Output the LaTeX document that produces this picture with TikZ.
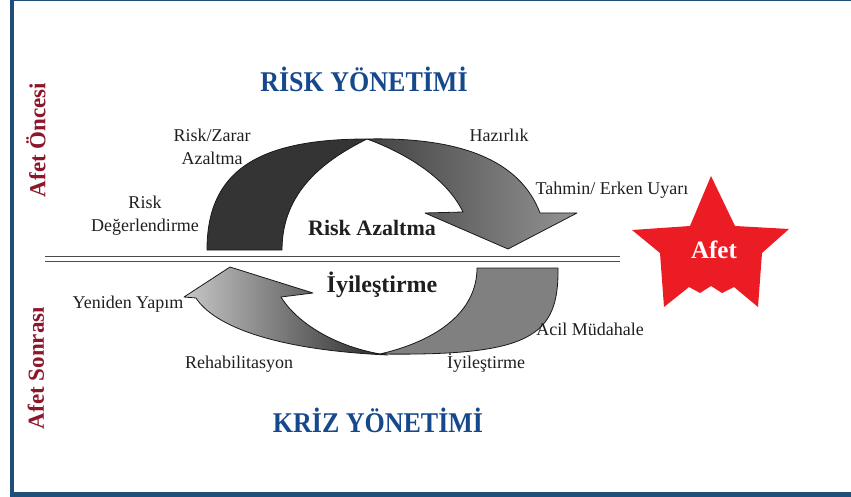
\documentclass[tikz,border=0pt]{standalone}
\usepackage{fontspec}
\setmainfont{Liberation Serif}
\definecolor{frameblue}{RGB}{31,78,121}
\definecolor{titleblue}{RGB}{22,72,140}
\definecolor{phasered}{RGB}{140,22,42}
\definecolor{starred}{RGB}{236,28,36}
\definecolor{ribbondark}{RGB}{52,52,52}
\begin{document}
\begin{tikzpicture}[x=1pt,y=-1pt,
  ribbon/.style={draw=black!90, line width=0.8pt, line join=round},
  lbl/.style={font=\fontsize{18}{22}\selectfont, text=black!88, inner sep=0pt, anchor=base},
  boldlbl/.style={font=\bfseries\fontsize{22}{26}\selectfont, text=black!88, inner sep=0pt, anchor=base},
  title/.style={font=\bfseries\fontsize{26}{30}\selectfont, text=titleblue, inner sep=0pt, anchor=base, yscale=1.1},
  phase/.style={font=\bfseries\fontsize{23}{26}\selectfont, text=phasered, inner sep=0pt, rotate=90},
  sepline/.style={draw=black!70, line width=1.3pt, double=white, double distance=3.5pt}]
\useasboundingbox (0,0) rectangle (851,497);

% page frame: heavy left and bottom rules, thin top rule
\fill[frameblue] (10,0) rectangle (14,497);
\fill[frameblue] (10,0) rectangle (851,1.2);
\fill[frameblue] (10,492) rectangle (851,496.5);

% upper cycle: dark rising crescent
\path[ribbon, fill=ribbondark]
  (207,250) .. controls (207,172) and (256,139) .. (367,139)
  .. controls (327,159) and (282,190) .. (282,250) -- cycle;
% upper cycle: grey descending arrow
\path[ribbon, left color=black!74, right color=black!42]
  (367,139) .. controls (460,137) and (520,160) .. (540,213)
  -- (577,213) -- (508,249) -- (425,213) -- (463,212)
  .. controls (445,175) and (400,151) .. (367,139) -- cycle;

% lower cycle: shaded arrow rising to the left
\path[ribbon, left color=black!22, right color=black!85]
  (196,298) -- (184,297) -- (230,267) -- (313,293) -- (281,297)
  .. controls (295,320) and (330,345) .. (380,354)
  -- (388,355) .. controls (275,350) and (214,326) .. (196,298) -- cycle;
% lower cycle: grey descending crescent
\path[ribbon, fill=black!50]
  (477,268) -- (558,268) .. controls (559,337) and (530,356) .. (380,354)
  .. controls (440,340) and (477,310) .. (477,268) -- cycle;

% separator between the two phases
\coordinate (sepL) at (45,259);
\coordinate (sepR) at (620,259);
\draw[sepline] (sepL) -- (sepR);

% disaster star
\fill[starred] (711,176) -- (690,226) -- (632,230) -- (660,253) -- (664,307)
  -- (689,287) -- (700,293) -- (711,286) -- (722,293) -- (734,287) -- (758,307)
  -- (762,253) -- (789,229) -- (735,226) -- cycle;
\node[font=\bfseries\fontsize{25}{28}\selectfont, text=white, inner sep=0pt, anchor=base] (afet) at (714,258) {Afet};

% headings
\node[title] (riskyon) at (364,92) {RİSK YÖNETİMİ};
\node[title] (krizyon) at (378,432) {KRİZ YÖNETİMİ};
\node[phase] (oncesi) at (36,140) {Afet Öncesi};
\node[phase] (sonrasi) at (36,368) {Afet Sonrası};

% stage labels
\node[lbl] (zarar1) at (212,142) {Risk/Zarar};
\node[lbl] (zarar2) at (212,165) {Azaltma};
\node[lbl] (deg1) at (145,209) {Risk};
\node[lbl] (deg2) at (145,232) {Değerlendirme};
\node[lbl] (hazir) at (499,142) {Hazırlık};
\node[lbl] (tahmin) at (612,195) {Tahmin/ Erken Uyarı};
\node[boldlbl] (azaltma) at (372,235) {Risk Azaltma};
\node[boldlbl, font=\bfseries\fontsize{24}{28}\selectfont] (iyiles) at (382,292) {İyileştirme};
\node[lbl] (yeniden) at (128,308) {Yeniden Yapım};
\node[lbl] (acil) at (590,335) {Acil Müdahale};
\node[lbl] (rehab) at (239,368) {Rehabilitasyon};
\node[lbl] (iyiles2) at (486,368) {İyileştirme};
\end{tikzpicture}
\end{document}
